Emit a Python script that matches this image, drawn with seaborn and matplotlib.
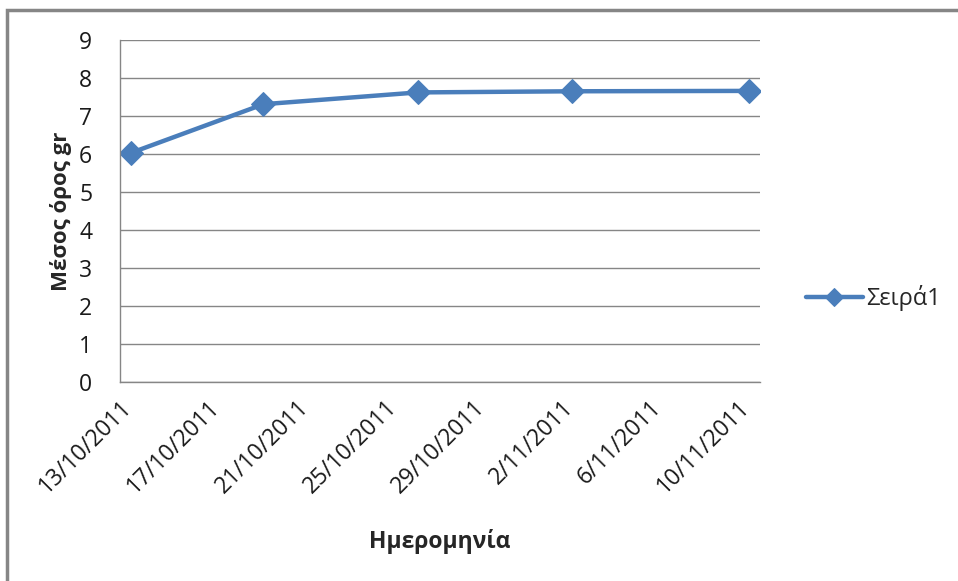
import pandas as pd
import matplotlib
matplotlib.use("Agg")
import matplotlib.pyplot as plt
from matplotlib.patches import Rectangle
import seaborn as sns

# data
dates = ["2011-10-13", "2011-10-19", "2011-10-26", "2011-11-02", "2011-11-10"]
values = [6.03, 7.31, 7.62, 7.65, 7.66]
tick_dates = ["2011-10-13", "2011-10-17", "2011-10-21", "2011-10-25",
              "2011-10-29", "2011-11-02", "2011-11-06", "2011-11-10"]
tick_labels = ["13/10/2011", "17/10/2011", "21/10/2011", "25/10/2011",
               "29/10/2011", "2/11/2011", "6/11/2011", "10/11/2011"]
series_name = "Σειρά1"

sns.set_style("white")
plt.rcParams['font.family'] = ['Open Sans', 'DejaVu Sans']

df = pd.DataFrame({"date": pd.to_datetime(dates), "value": values})
# excel date axis puts each point in the middle of its day
df["pos"] = df["date"] + pd.Timedelta(hours=12)

blue = "#4A7EBB"
grey = "#868686"

fig = plt.figure(figsize=(9.58, 5.81), dpi=100)
ax = fig.add_axes([0.1253, 0.3425, 0.6680, 0.5887])

sns.lineplot(data=df, x="pos", y="value", ax=ax, color=blue, lw=3.2,
             marker="D", markersize=12, markeredgecolor=blue, label=series_name)

ax.set_xlim(pd.Timestamp("2011-10-13"), pd.Timestamp("2011-11-11"))
ax.set_ylim(0, 9)
ax.set_yticks(range(0, 10))
ax.set_xticks(pd.to_datetime(tick_dates))
ax.set_xticklabels(tick_labels, rotation=45, ha="right", rotation_mode="anchor")

ax.yaxis.grid(True, color=grey, lw=1)
ax.xaxis.grid(False)
ax.set_axisbelow(True)
for s in ["top", "right"]:
    ax.spines[s].set_visible(False)
for s in ["left", "bottom"]:
    ax.spines[s].set_color(grey)
    ax.spines[s].set_linewidth(1)

ax.tick_params(axis="both", which="major", direction="out", length=8, width=1,
               color=grey, labelsize=16.5, labelcolor="#1a1a1a")
ax.tick_params(axis="y", pad=12)
ax.tick_params(axis="x", pad=2)

ax.set_xlabel("Ημερομηνία", fontsize=16.5, fontweight="bold", labelpad=22)
ax.set_ylabel("Μέσος όρος gr", fontsize=16, fontweight="bold", labelpad=5)

ax.legend(loc="center left", bbox_to_anchor=(806 / 958, 1 - 298 / 581),
          bbox_transform=fig.transFigure, frameon=False, borderaxespad=0,
          borderpad=0, fontsize=17, handlelength=2.4, handletextpad=0.15,
          markerscale=0.8)

# outer chart frame (only top and left edges are in view)
fig.patches.append(Rectangle((7 / 958, -0.1), 1.2, 1 - 10 / 581 + 0.1,
                             transform=fig.transFigure, fill=False,
                             edgecolor=grey, lw=2.5))

fig.savefig("out.png", dpi=100)
